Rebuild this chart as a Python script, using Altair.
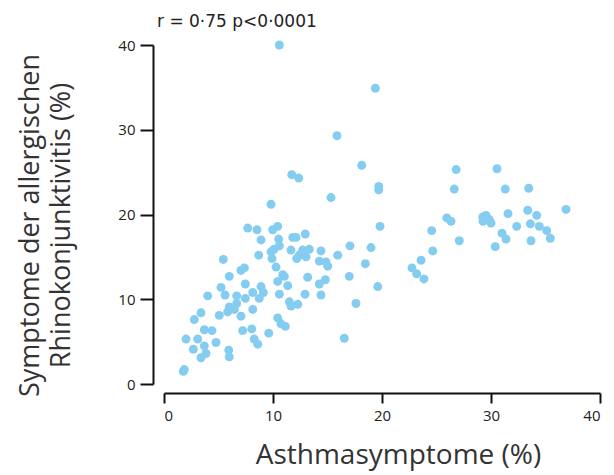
import altair as alt
import pandas as pd

asthma = [10.58, 19.39, 15.87, 18.14, 11.72, 12.36, 19.70, 19.70, 15.32, 26.8, 26.63, 9.82,
          19.82, 25.95, 26.33, 24.56, 12.96, 12.11, 17.06, 18.99, 12.72, 13.33, 12.41, 13.03,
          14.40, 15.94, 14.25, 14.86, 15.02, 18.47, 24.65, 23.58, 22.75, 23.18, 23.85, 13.18,
          14.80, 17.0, 14.25, 12.94, 14.40, 12.27, 19.61, 17.61, 16.54,
          30.55, 31.31, 33.46, 29.24, 29.54, 29.84, 29.27, 30.0, 31.56, 33.37, 34.19, 32.36,
          33.61, 34.43, 35.11, 35.44, 31.01, 31.38, 27.09, 33.67, 30.39, 36.88,
          7.68, 8.53, 9.97, 10.43, 8.90, 10.52, 11.81, 10.58, 9.82, 10.09, 11.65, 8.69, 5.44,
          9.91, 12.17, 10.28, 7.37, 7.06, 5.99, 10.89,
          7.46, 5.23, 4.01, 5.60, 6.67, 7.46, 8.14, 8.90, 9.11, 8.74, 10.43, 11.04, 11.35,
          10.58, 11.50, 11.65, 6.67, 5.99, 5.84, 6.45, 7.06, 8.14, 5.07, 3.39, 2.78, 10.43,
          10.73, 11.13, 3.70, 4.40, 7.22, 8.05, 9.61, 2.02, 3.09, 8.28, 8.60, 4.77, 2.69, 3.70,
          5.94, 5.99, 3.85, 3.39, 1.86, 1.77]

rhino = [40.0, 34.9, 29.3, 25.8, 24.7, 24.3, 23.3, 22.9, 22.0, 25.3, 23.0, 21.2,
         18.6, 19.6, 19.2, 18.1, 17.7, 17.3, 16.3, 16.1, 15.8, 15.9, 15.2, 15.0,
         15.7, 15.2, 14.5, 14.4, 13.9, 14.2, 15.7, 14.6, 13.7, 13.0, 12.4, 12.6,
         12.3, 12.7, 11.8, 10.6, 10.5, 9.4, 11.5, 9.5, 5.4,
         25.4, 23.0, 23.1, 19.7, 19.9, 19.4, 19.2, 19.0, 20.1, 20.5, 19.9, 18.6,
         18.9, 18.6, 18.1, 17.2, 17.8, 17.1, 16.9, 16.9, 16.2, 20.6,
         18.4, 18.2, 18.2, 18.6, 17.0, 17.1, 17.3, 16.3, 15.6, 15.9, 15.8, 15.2, 14.7,
         14.8, 14.8, 13.8, 13.7, 13.4, 12.7, 12.9,
         11.8, 11.4, 10.4, 10.5, 10.4, 10.1, 10.8, 11.5, 10.8, 10.1, 12.1, 12.7, 11.6,
         10.6, 9.7, 9.2, 9.5, 9.1, 8.5, 8.8, 8.0, 8.8, 8.1, 8.4, 7.6, 7.8,
         7.1, 6.8, 6.4, 6.3, 6.3, 6.5, 6.0, 5.3, 5.3, 5.3, 4.7, 4.9, 4.1, 4.5,
         4.0, 3.2, 3.6, 3.1, 1.7, 1.5]

ticks = [0, 10, 20, 30, 40]

df = pd.DataFrame({"asthma": asthma, "rhino": rhino})

FONT = "Open Sans"

chart = alt.Chart(df).mark_circle(size=80, opacity=1, color="#84cdf0").encode(
    x=alt.X("asthma:Q", scale=alt.Scale(domain=[0, 40], nice=False),
            axis=alt.Axis(values=ticks, title="Asthmasymptome (%)", grid=False,
                          offset=9, domainColor="#111", domainWidth=2, tickColor="#111",
                          tickWidth=2, tickSize=10, labelFontSize=15, labelColor="#222",
                          labelFont=FONT, labelPadding=5, titleFont=FONT, titleFontSize=28,
                          titleFontWeight="normal", titleColor="#333", titlePadding=18,
                          titleX=234)),
    y=alt.Y("rhino:Q", scale=alt.Scale(domain=[0, 40], nice=False),
            axis=alt.Axis(values=ticks, title=["Symptome der allergischen", "Rhinokonjunktivitis (%)"],
                          grid=False, offset=11, domainColor="#111", domainWidth=2,
                          tickColor="#111", tickWidth=2, tickSize=13, labelFontSize=15,
                          labelColor="#222", labelFont=FONT, labelPadding=5, titleFont=FONT,
                          titleFontSize=27, titleFontWeight="normal", titleColor="#333",
                          titlePadding=42, titleLineHeight=31, titleY=180)),
).properties(
    width=436, height=339,
    padding={"left": 8, "top": 5, "right": 5, "bottom": 5},
    title=alt.TitleParams("r = 0·75 p<0·0001", anchor="start", frame="group", fontSize=17,
                          font="DejaVu Sans", fontWeight="normal", color="#222", dx=-7,
                          offset=7),
).configure_view(stroke=None)

chart.save("out.html", embed_options={"renderer": "svg", "actions": False})
